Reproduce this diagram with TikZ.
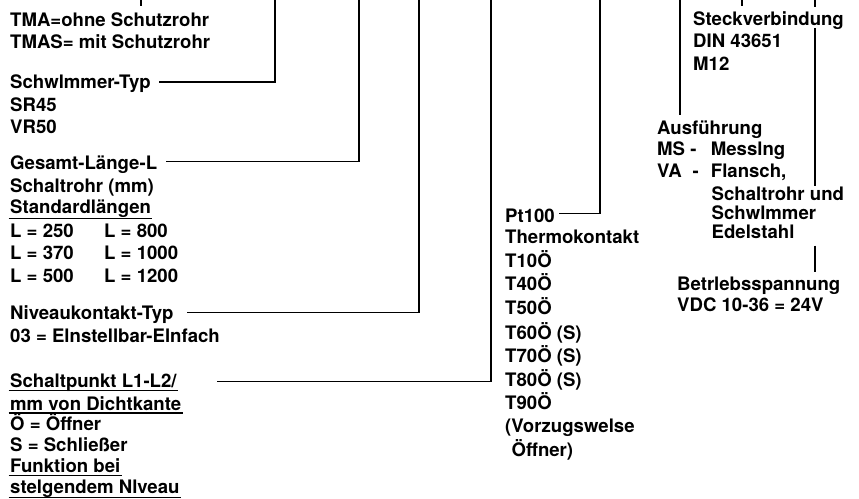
\documentclass[tikz,border=0pt]{standalone}
\usepackage{fontspec}
\setmainfont{TeX Gyre Heros}
\usetikzlibrary{calc}
\begin{document}
\begin{tikzpicture}[x=1pt,y=-1pt,
  txt/.style={anchor=base west,inner sep=0pt,font=\fontsize{18.6}{22}\selectfont\bfseries},
  conn/.style={line width=1.3pt,black},
  ulin/.style={line width=1.3pt,black}]
\useasboundingbox (0,0) rectangle (859,498);
% ---------- left column ----------
\node[txt] (tma)  at (10,26)    {TMA=ohne Schutzrohr};
\node[txt] (tmas) at (10,48.3)  {TMAS= mit Schutzrohr};
\node[txt] (schw) at (10,88.3)  {Schwlmmer-Typ};
\node[txt] (sr)   at (10,111)   {SR45};
\node[txt] (vr)   at (10,133.3) {VR50};
\node[txt] (ges)  at (10,169.3) {Gesamt-Länge-L};
\node[txt] (srm)  at (10,192)   {Schaltrohr (mm)};
\node[txt] (std)  at (10,213.8) {Standardlängen};
\node[txt] (la)   at (10,237)   {L = 250};
\node[txt] (lb)   at (104,237)  {L = 800};
\node[txt] (lc)   at (10,259.5) {L = 370};
\node[txt] (ld)   at (104,259.5){L = 1000};
\node[txt] (le)   at (10,282)   {L = 500};
\node[txt] (lf)   at (104,282)  {L = 1200};
\node[txt] (niv)  at (10,319.5) {Niveaukontakt-Typ};
\node[txt] (ein)  at (10,342)   {03 = Elnstellbar-Elnfach};
\node[txt] (sp)   at (10,387.3) {Schaltpunkt L1-L2/};
\node[txt] (mm)   at (10,410)   {mm von Dichtkante};
\node[txt] (oe)   at (10,430.7) {Ö = Öffner};
\node[txt] (sch)  at (10,451.7) {S = Schließer};
\node[txt] (fkt)  at (10,472.8) {Funktion bei};
\node[txt] (stg)  at (10,493.3) {stelgendem Nlveau};
% underlines
\draw[ulin] ($(std.base west)+(-1.5,5)$) -- ($(std.base east)+(1,5)$);
\draw[ulin] ($(sp.base west)+(-1.5,3.4)$) -- ($(sp.base east)+(1,3.4)$);
\draw[ulin] ($(mm.base west)+(-1.5,3)$) -- ($(mm.base east)+(1,3)$);
\draw[ulin] ($(fkt.base west)+(-1.5,2.8)$) -- ($(fkt.base east)+(1,2.8)$);
\draw[ulin] ($(stg.base west)+(-1.5,4.5)$) -- ($(stg.base east)+(1,4.5)$);
% ---------- Pt100 column ----------
\node[txt] (pt)   at (505,222.5) {Pt100};
\node[txt] (thk)  at (505,243.5) {Thermokontakt};
\node[txt] (ta)   at (505,267)   {T10Ö};
\node[txt] (tb)   at (505,290.5) {T40Ö};
\node[txt] (tc)   at (505,314)   {T50Ö};
\node[txt] (td)   at (505,339)   {T60Ö (S)};
\node[txt] (te)   at (505,362.5) {T70Ö (S)};
\node[txt] (tf)   at (505,386)   {T80Ö (S)};
\node[txt] (tg)   at (505,409.5) {T90Ö};
\node[txt] (vz)   at (505,432)   {(Vorzugswelse};
\node[txt] (of)   at (511.5,456) {Öffner)};
% ---------- Steckverbindung ----------
\node[txt] (steck) at (693,25)   {Steckverbindung};
\node[txt] (din)   at (693,47.3) {DIN 43651};
\node[txt] (mz)    at (693,70)   {M12};
% ---------- Ausfuehrung ----------
\node[txt] (ausf) at (657,134.7) {Ausführung};
\node[txt] (ms)   at (657,155.5) {MS -};
\node[txt] (mss)  at (710.7,155.5) {Messlng};
\node[txt] (va)   at (657,177)   {VA};
\node[txt] (vad)  at (692.5,177) {-};
\node[txt] (fl)   at (710.7,177) {Flansch,};
\node[txt] (sru)  at (711.5,200.5) {Schaltrohr und};
\node[txt] (swm)  at (711.5,219.8) {Schwlmmer};
\node[txt] (edel) at (711.5,238.5) {Edelstahl};
% ---------- Betriebsspannung ----------
\node[txt] (betr) at (677,290)   {Betrlebsspannung};
\node[txt] (vdc)  at (677,311.7) {VDC 10-36 = 24V};
% ---------- connectors ----------
\coordinate (t1) at (141,0);
\coordinate (t2) at (275,0);
\coordinate (t3) at (359,0);
\coordinate (t4) at (419,0);
\coordinate (t5) at (491,0);
\coordinate (t6) at (600,0);
\coordinate (t7) at (680,0);
\coordinate (t8) at (742,0);
\coordinate (t9) at (815,0);
\draw[conn] (t1) -- ($(tma.north -| t1)+(0,-6)$);
\draw[conn] (t2) |- ($(schw.base east)+(8,-6.3)$);
\draw[conn] (t3) |- ($(ges.base east)+(9,-8)$);
\draw[conn] (t4) |- ($(niv.base east)+(13,-6.8)$);
\draw[conn] (t5) |- ($(sp.base east)+(40,-5.6)$);
\draw[conn] (t6) |- ($(pt.base east)+(4,-9.2)$);
\draw[conn] (t7) -- ($(ausf.north -| t7)+(0,-6)$);
\draw[conn] (t8) -- ($(steck.north -| t8)+(0,-4.5)$);
\draw[conn] (t9) -- ($(steck.north -| t9)+(0,-3.5)$);
\draw[conn] ($(steck.base -| t9)+(0,3)$) -- ($(sru.north -| t9)+(0,-1)$);
\draw[conn] ($(edel.base -| t9)+(0,7)$) -- ($(betr.north -| t9)+(0,-4.5)$);
\end{tikzpicture}
\end{document}
